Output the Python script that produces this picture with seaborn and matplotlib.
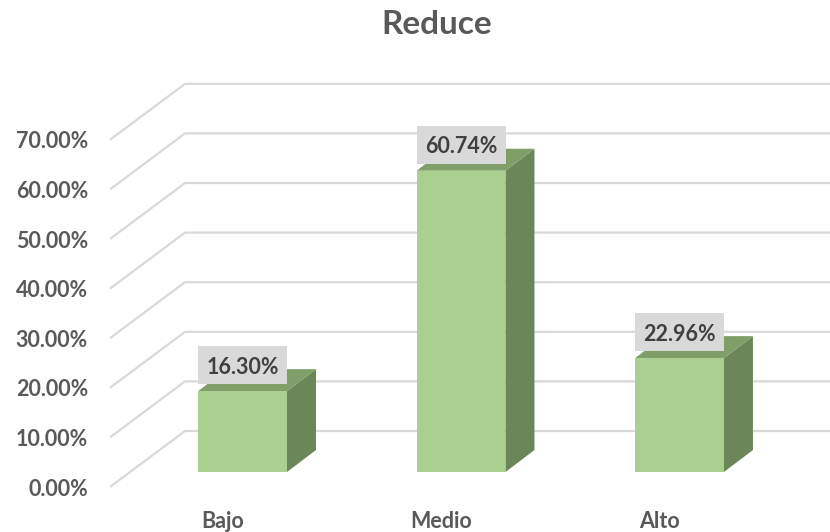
import matplotlib
matplotlib.use("Agg")
import matplotlib.pyplot as plt
import seaborn as sns
from matplotlib.patches import Polygon, Rectangle

categories = ["Bajo", "Medio", "Alto"]
values = [16.30, 60.74, 22.96]
value_labels = ["16.30%", "60.74%", "22.96%"]
tick_values = [0, 10, 20, 30, 40, 50, 60, 70]
tick_labels = ["0.00%", "10.00%", "20.00%", "30.00%", "40.00%", "50.00%", "60.00%", "70.00%"]
title = "Reduce"

FRONT = "#A9D08E"
SIDE = "#6B8659"
TOP = "#7F9F69"
GRID = "#D9D9D9"
TXT = "#595959"
LBL = "#404040"

sns.set_theme(style="white")
plt.rcParams['font.family'] = ['Lato', 'DejaVu Sans']

W, H = 830, 532
fig = plt.figure(figsize=(W / 100, H / 100), dpi=100)
fig.patch.set_facecolor("white")
ax_w, ax_h = 662, 347.2
ax = fig.add_axes([130 / W, 60 / H, ax_w / W, ax_h / H])

sns.barplot(x=categories, y=values, color=FRONT, saturation=1, width=0.407,
            ax=ax, zorder=3, linewidth=0)
xl, xr = -0.515, 2.515
ax.set_xlim(xl, xr)
ax.set_ylim(0, 70)
ax.axis("off")

sx = ax_w / (xr - xl)   # px per x unit
sy = ax_h / 70.0        # px per y unit

# 3D offsets (pixels)
fdx, fdy = -20, -15      # bar plane -> front axis plane
bdx, bdy = 55, 41        # bar plane -> back wall
ddx, ddy = 29, 22        # bar depth

# gridlines
for v in tick_values:
    xs = [xl + fdx / sx, xl + bdx / sx, xr + bdx / sx]
    ys = [v + fdy / sy, v + bdy / sy, v + bdy / sy]
    ax.plot(xs, ys, color=GRID, lw=1.6, clip_on=False, zorder=1,
            solid_capstyle="butt")

# tick labels
for v, t in zip(tick_values, tick_labels):
    ax.text(xl + (fdx - 22) / sx, v + fdy / sy, t, ha="right", va="center_baseline",
            fontsize=15.5, fontweight="bold", color=TXT, clip_on=False)

# 3D sides, tops, labels
for p, lbl, cat in zip(ax.patches, value_labels, categories):
    x0 = p.get_x()
    w = p.get_width()
    h = p.get_height()
    dx, dy = ddx / sx, ddy / sy
    side = Polygon([(x0 + w, 0), (x0 + w, h), (x0 + w + dx, h + dy), (x0 + w + dx, dy)],
                   closed=True, facecolor=SIDE, edgecolor="none", zorder=2.9, clip_on=False)
    top = Polygon([(x0, h), (x0 + w, h), (x0 + w + dx, h + dy), (x0 + dx, h + dy)],
                  closed=True, facecolor=TOP, edgecolor="none", zorder=2.9, clip_on=False)
    ax.add_patch(side)
    ax.add_patch(top)
    cx = x0 + w / 2
    ty = h + 26 / sy
    ax.add_patch(Rectangle((cx - 44.5 / sx, ty - 19 / sy), 89 / sx, 38 / sy,
                           facecolor="#D9D9D9", edgecolor="none", zorder=4, clip_on=False))
    ax.text(cx, ty, lbl, ha="center", va="center_baseline", fontsize=15.5,
            fontweight="bold", color=LBL, zorder=5, clip_on=False)
    ax.text(cx + fdx / sx, (fdy - 32) / sy, cat, ha="center", va="center_baseline",
            fontsize=15.5, fontweight="bold", color=TXT, clip_on=False)

fig.text(437 / W, 1 - 22 / H, title, ha="center", va="center_baseline", fontsize=24,
         fontweight="bold", color=TXT)

fig.savefig("out.png", dpi=100)
